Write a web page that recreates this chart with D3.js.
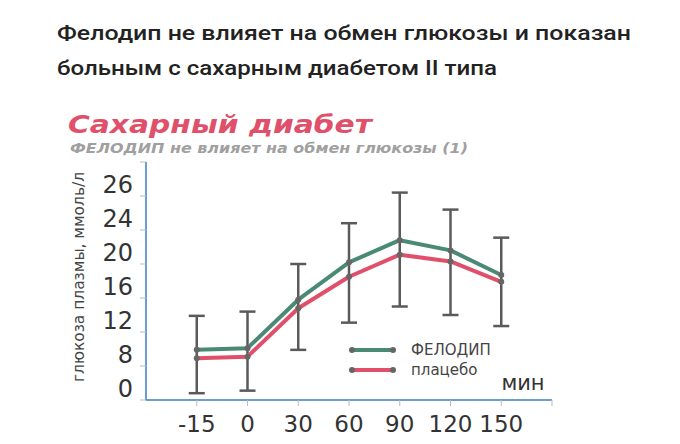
<!DOCTYPE html><html><head><meta charset="utf-8"><script src="https://cdn.jsdelivr.net/npm/d3@7"></script>
<style>body{margin:0;background:#fff}</style></head><body><svg id="c" width="680" height="444"></svg>
<script>
const categories=["-15","0","30","60","90","120","150"];
const felodip=[9.9,10.1,15.8,20.2,22.8,21.6,18.7];
const placebo=[8.9,9.1,14.8,18.5,21.1,20.3,17.9];
const errTop=[13.9,14.4,20.0,24.4,26.2,25.2,23.1];
const errBottom=[1.6,2.2,9.9,13.1,15.0,14.0,12.7];
const yTicks=[0,8,12,16,20,24,26];
const svg=d3.select("#c");
const F="Roboto, sans-serif";
svg.append("text").attr("x",57).attr("y",40).attr("font-family",F).attr("font-weight",500).attr("font-size",20).attr("fill","#222").attr("textLength",574).attr("lengthAdjust","spacingAndGlyphs").text("Фелодип не влияет на обмен глюкозы и показан");
svg.append("text").attr("x",57).attr("y",75).attr("font-family",F).attr("font-weight",500).attr("font-size",20).attr("fill","#222").attr("textLength",440).attr("lengthAdjust","spacingAndGlyphs").text("больным с сахарным диабетом II типа");
svg.append("text").attr("x",68).attr("y",133).attr("font-family","DejaVu Sans").attr("font-weight","bold").attr("font-style","italic").attr("font-size",25).attr("fill","#e0506a").attr("textLength",304).attr("lengthAdjust","spacingAndGlyphs").text("Сахарный диабет");
svg.append("text").attr("x",70).attr("y",153).attr("font-family","DejaVu Sans").attr("font-weight","bold").attr("font-style","italic").attr("font-size",14).attr("fill","#a0a0a0").attr("textLength",398).attr("lengthAdjust","spacingAndGlyphs").text("ФЕЛОДИП не влияет на обмен глюкозы (1)");
const x=d3.scalePoint().domain(categories).range([146,552]).padding(1);
const y=d3.scaleLinear().domain(yTicks).range([400,366,332,298,264,230,196]);
svg.append("line").attr("x1",146).attr("x2",146).attr("y1",162).attr("y2",400).attr("stroke","#3a7fc0").attr("stroke-width",1.5);
svg.append("line").attr("x1",146).attr("x2",552).attr("y1",400).attr("y2",400).attr("stroke","#3a7fc0").attr("stroke-width",1.5);
[162,...yTicks.map(y)].forEach(v=>svg.append("line").attr("x1",140).attr("x2",146).attr("y1",v).attr("y2",v).attr("stroke","#bbb"));
[...categories.map(x),552].forEach(v=>svg.append("line").attr("x1",v).attr("x2",v).attr("y1",400).attr("y2",406).attr("stroke","#bbb"));
yTicks.forEach(t=>svg.append("text").attr("x",133).attr("y",y(t)-3).attr("text-anchor","end").attr("font-family","DejaVu Sans").attr("font-size",24).attr("fill","#333").text(t));
categories.forEach(c=>svg.append("text").attr("x",x(c)).attr("y",432).attr("text-anchor","middle").attr("font-family","DejaVu Sans").attr("font-size",23).attr("fill","#333").text(c));
svg.append("text").attr("x",523).attr("y",390).attr("text-anchor","middle").attr("font-family","DejaVu Sans").attr("font-size",21).attr("fill","#333").text("мин");
svg.append("text").attr("transform","translate(84,277) rotate(-90)").attr("text-anchor","middle").attr("font-family","DejaVu Sans").attr("font-size",15).attr("fill","#444").attr("textLength",210).attr("lengthAdjust","spacingAndGlyphs").text("глюкоза плазмы, ммоль/л");
categories.forEach((c,i)=>{
 const g=svg.append("g").attr("stroke","#5a5a5a").attr("stroke-width",2.5);
 g.append("line").attr("x1",x(c)).attr("x2",x(c)).attr("y1",y(errTop[i])).attr("y2",y(errBottom[i]));
 [errTop[i],errBottom[i]].forEach(v=>g.append("line").attr("x1",x(c)-8).attr("x2",x(c)+8).attr("y1",y(v)).attr("y2",y(v)));
});
const line=d3.line().x((d,i)=>x(categories[i])).y(d=>y(d));
[[placebo,"#e0506a"],[felodip,"#4a8a74"]].forEach(([s,col])=>{
 svg.append("path").attr("d",line(s)).attr("fill","none").attr("stroke",col).attr("stroke-width",4).attr("stroke-linejoin","round");
 svg.selectAll(null).data(s).enter().append("circle").attr("cx",(d,i)=>x(categories[i])).attr("cy",d=>y(d)).attr("r",3).attr("fill","#666");
});
[["ФЕЛОДИП","#4a8a74",350],["плацебо","#e0506a",370]].forEach(([t,col,yy])=>{
 svg.append("line").attr("x1",352).attr("x2",393).attr("y1",yy).attr("y2",yy).attr("stroke",col).attr("stroke-width",4);
 [352,393].forEach(cx=>svg.append("circle").attr("cx",cx).attr("cy",yy).attr("r",3).attr("fill","#666"));
 svg.append("text").attr("x",411).attr("y",yy+5).attr("font-family","DejaVu Sans").attr("font-size",15).attr("fill","#444").text(t);
});
</script></body></html>
